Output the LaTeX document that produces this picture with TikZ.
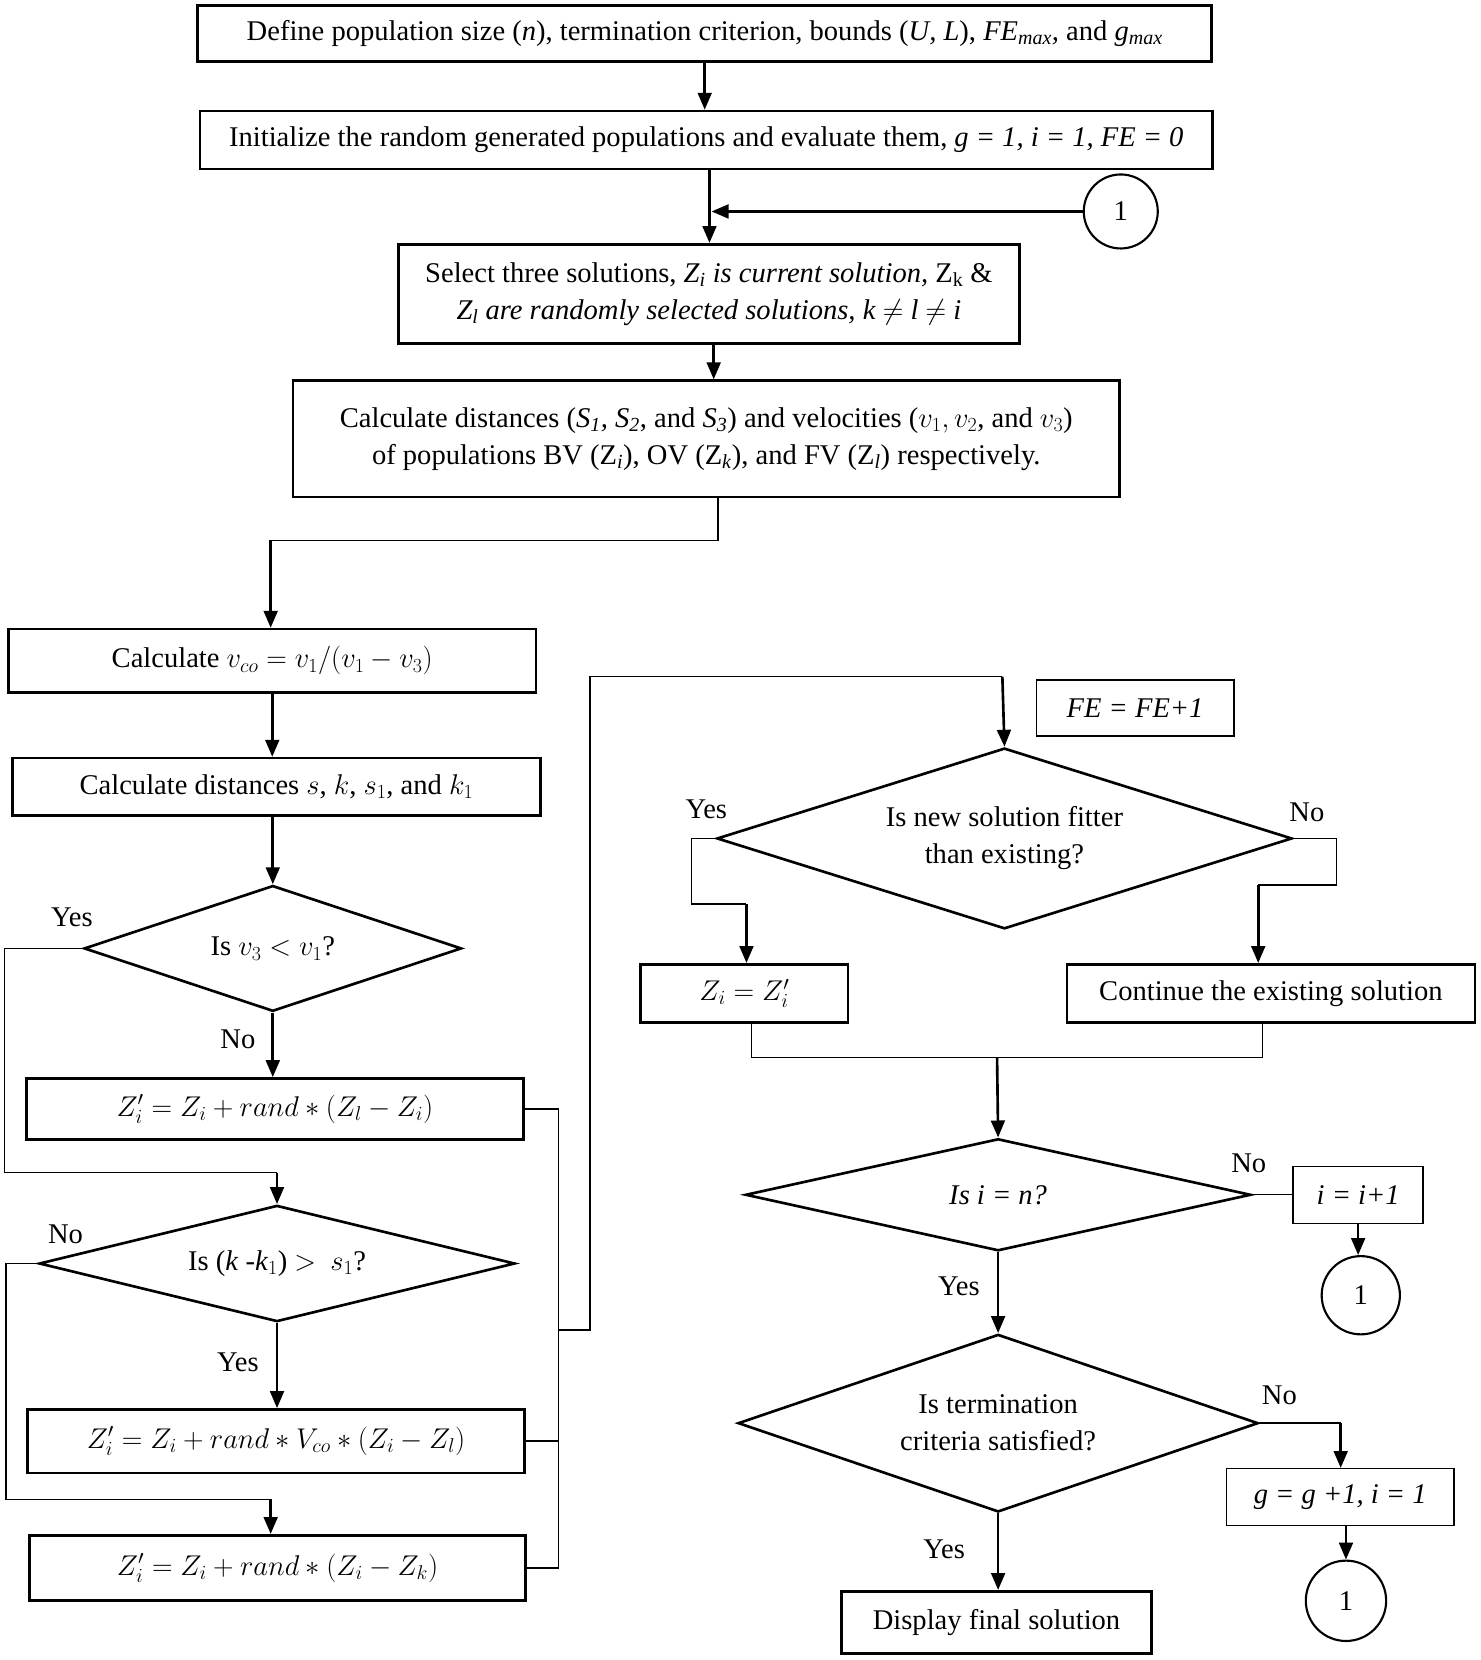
\RequirePackage{fix-cm}
\documentclass[tikz,border=0pt]{standalone}
\usepackage{fontspec}
\setmainfont{Liberation Serif}
\usetikzlibrary{shapes.geometric,arrows.meta}
\begin{document}
\begin{tikzpicture}[x=1pt,y=-1pt,
  every node/.style={font=\fontsize{27}{35}\selectfont},
  box/.style={draw,line width=2.5pt,rectangle,inner sep=0pt,align=center},
  tbox/.style={draw,line width=1.3pt,rectangle,inner sep=0pt,align=center},
  dia/.style={draw,line width=2.5pt,diamond,inner sep=0pt,aspect=3,align=center},
  conn/.style={draw,line width=2pt,circle,inner sep=0pt},
  thinl/.style={line width=1.3pt},
  arr/.style={line width=2.5pt,-{Triangle[length=16pt,width=13pt]}},
  lbl/.style={inner sep=0pt}]
\useasboundingbox (0,0) rectangle (1400,1570);
% nodes
\node[box,minimum width=959pt,minimum height=53pt] (b1) at (666.5,31.5)
  {Define population size (\textit{n}), termination criterion, bounds (\textit{U, L}), \textit{FE\textsubscript{max},} and \textit{g\textsubscript{max}}};
\node[box,minimum width=958pt,minimum height=55pt] (b2) at (668,132.5)
  {Initialize the random generated populations and evaluate them, \textit{g = 1, i = 1, FE = 0}};
\node[box,minimum width=587pt,minimum height=94pt] (b3) at (670.5,278)
  {Select three solutions, \textit{Z\textsubscript{i} is current solution,} Z\textsubscript{k} \&\\
   \textit{Z\textsubscript{l} are randomly selected solutions, k} $\neq$ \textit{l} $\neq$ \textit{i}};
\node[box,minimum width=782pt,minimum height=110pt] (b4) at (668,415)
  {Calculate distances (\textit{S\textsubscript{1}, S\textsubscript{2}}, and \textit{S\textsubscript{3}}) and velocities ($v_1, v_2$, and $v_3$)\\
   of populations BV (Z\textsubscript{\textit{i}}), OV (Z\textsubscript{\textit{k}}), and FV (Z\textsubscript{\textit{l}}) respectively.};
\node[box,minimum width=499pt,minimum height=60pt] (b5) at (257.5,625)
  {Calculate $v_{co} = v_1/(v_1 - v_3)$};
\node[box,minimum width=499pt,minimum height=54pt] (b6) at (261.5,744)
  {Calculate distances $s$, $k$, $s_1$, and $k_1$};
\node[dia,minimum width=357pt,minimum height=119pt] (d1) at (258,897)
  {Is $v_3 < v_1$?};
\node[box,minimum width=470pt,minimum height=58pt] (b7) at (260,1049)
  {$Z_i^{\prime} = Z_i + rand \ast (Z_l - Z_i)$};
\node[dia,minimum width=450pt,minimum height=110pt,aspect=4] (d2) at (262,1195)
  {Is (\textit{k} -\textit{k}$_1$) $>$\ \ $s_1$?};
\node[box,minimum width=470pt,minimum height=60pt] (b8) at (261,1363)
  {$Z_i^{\prime} = Z_i + rand \ast V_{co} \ast (Z_i - Z_l)$};
\node[box,minimum width=469pt,minimum height=62pt] (b9) at (262.5,1483)
  {$Z_i^{\prime} = Z_i + rand \ast (Z_i - Z_k)$};
\node[tbox,minimum width=187pt,minimum height=53pt] (fe) at (1073.5,669.5)
  {\textit{FE = FE+1}};
\node[dia,minimum width=544pt,minimum height=171pt] (d3) at (950,793)
  {Is new solution fitter\\than existing?};
\node[box,minimum width=196pt,minimum height=55pt] (b10) at (704,939.5)
  {$Z_i = Z_i^{\prime}$};
\node[box,minimum width=386pt,minimum height=55pt] (b11) at (1202,939.5)
  {Continue the existing solution};
\node[dia,minimum width=478pt,minimum height=106pt,aspect=4] (d4) at (944,1130)
  {\textit{Is i = n?}};
\node[tbox,minimum width=123pt,minimum height=54pt] (b12) at (1284.5,1130)
  {\textit{i = i+1}};
\node[dia,minimum width=492pt,minimum height=168pt] (d5) at (944,1346)
  {Is termination\\criteria satisfied?};
\node[tbox,minimum width=215pt,minimum height=54pt] (b13) at (1267.5,1416)
  {\textit{g = g +1, i = 1}};
\node[box,minimum width=293pt,minimum height=59pt] (b14) at (942.5,1534.5)
  {Display final solution};
\node[conn,minimum size=70pt] (c1) at (1060,200) {1};
\node[conn,minimum size=74pt] (c2) at (1287,1225) {1};
\node[conn,minimum size=76pt] (c3) at (1273,1514) {1};
% labels
\node[lbl] at (68,868) {Yes};
\node[lbl] at (225,983) {No};
\node[lbl] at (62,1167) {No};
\node[lbl] at (225,1288) {Yes};
\node[lbl] at (668,765) {Yes};
\node[lbl] at (1236,768) {No};
\node[lbl] at (1181,1100) {No};
\node[lbl] at (907,1217) {Yes};
\node[lbl] at (1210,1320) {No};
\node[lbl] at (893,1465) {Yes};
% helper coordinates
\coordinate (j0) at (679,511);
\coordinate (j1) at (256,511);
\coordinate (j2) at (262,1109);
\coordinate (j3) at (256,1418);
\coordinate (k1) at (528,1258);
\coordinate (k2) at (558,640);
\coordinate (k3) at (948,640);
\coordinate (m1) at (706,855);
\coordinate (m2) at (1190,837);
\coordinate (m3) at (943,1000);
\coordinate (m4) at (1268,1346);
% connectors
\draw[arr] (b1.south) -- (b2.north -| b1.south);
\draw[arr] (b2.south -| 671,0) -- (b3.north -| 671,0);
\draw[arr] (c1.west) -- (c1.west -| 673,0);
\draw[arr] (b3.south -| 675,0) -- (b4.north -| 675,0);
\draw[thinl] (b4.south -| j0) -- (j0) -- (j1);
\draw[arr] (j1) -- (b5.north -| j1);
\draw[arr] (b5.south) -- (b6.north -| b5.south);
\draw[arr] (b6.south -| d1.north) -- (d1.north);
\draw[thinl] (d1.west) -- ++(-74,0) |- (j2);
\draw[arr] (j2) -- (d2.north);
\draw[arr] (d1.south) -- (b7.north -| d1.south);
\draw[thinl] (d2.west) -- ++(-30,0) |- (j3);
\draw[arr] (j3) -- (b9.north -| j3);
\draw[arr] (d2.south) -- (b8.north -| d2.south);
\draw[thinl] (b7.east) -- (b7.east -| k1) -- (b9.east -| k1) -- (b9.east);
\draw[thinl] (b8.east) -- (b8.east -| k1);
\draw[thinl] (k1) -| (k2) -- (k3);
\draw[arr] (k3) -- (d3.north);
\draw[thinl] (d3.west) -- ++(-23,0) |- (m1);
\draw[arr] (m1) -- (b10.north -| m1);
\draw[thinl] (d3.east) -- ++(41,0) |- (m2);
\draw[arr] (m2) -- (b11.north -| m2);
\draw[thinl] (b10.south -| 711,0) |- (m3) -| (b11.south -| 1194,0);
\draw[arr] (m3) -- (d4.north);
\draw[thinl] (d4.east) -- (b12.west);
\draw[arr] (b12.south) -- (c2.north -| b12.south);
\draw[arr] (d4.south) -- (d5.north);
\draw[thinl] (d5.east) -- (m4);
\draw[arr] (m4) -- (b13.north -| m4);
\draw[arr] (b13.south -| c3.north) -- (c3.north);
\draw[arr] (d5.south) -- (b14.north -| d5.south);
\end{tikzpicture}
\end{document}
